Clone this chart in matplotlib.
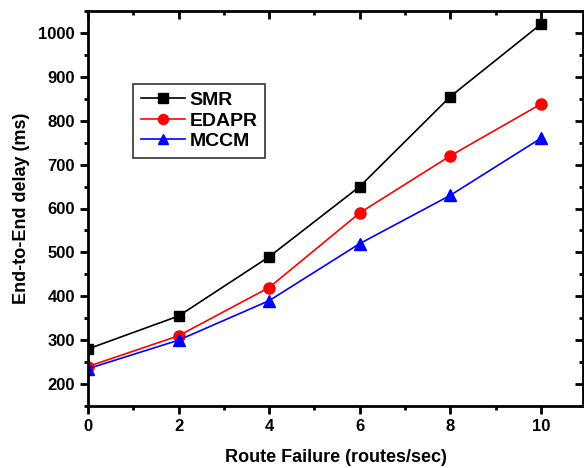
import matplotlib
matplotlib.use("Agg")
import matplotlib.pyplot as plt
from matplotlib.ticker import MultipleLocator

plt.rcParams['font.family'] = ['Liberation Sans', 'DejaVu Sans']
plt.rcParams['font.weight'] = 'bold'

route_failure = [0, 2, 4, 6, 8, 10]
smr = [280, 355, 490, 650, 855, 1020]
edapr = [240, 310, 420, 590, 720, 838]
mccm = [235, 300, 390, 520, 630, 760]

fig = plt.figure(figsize=(5.84, 4.68), dpi=100)
ax = fig.add_axes([88/584, 62/468, 495/584, 395/468])

ax.plot(route_failure, smr, color='black', marker='s', markersize=7.5, linewidth=1.2, label='SMR')
ax.plot(route_failure, edapr, color='red', marker='o', markersize=8, linewidth=1.2, label='EDAPR')
ax.plot(route_failure, mccm, color='blue', marker='^', markersize=8.5, linewidth=1.2, label='MCCM')

ax.set_xlim(0, 10.93)
ax.set_ylim(150, 1050)
ax.xaxis.set_major_locator(MultipleLocator(2))
ax.xaxis.set_minor_locator(MultipleLocator(1))
ax.yaxis.set_major_locator(MultipleLocator(100))
ax.yaxis.set_minor_locator(MultipleLocator(50))

for s in ax.spines.values():
    s.set_linewidth(2)

ax.tick_params(axis='both', which='major', length=6, width=2, labelsize=12)
ax.tick_params(axis='both', which='minor', length=3, width=2)
ax.tick_params(axis='x', which='both', direction='out', top=False)
ax.tick_params(axis='y', which='both', direction='out', right=False)

# mirrored ticks on top and right, pointing inward
top = ax.secondary_xaxis('top')
top.xaxis.set_major_locator(MultipleLocator(2))
top.xaxis.set_minor_locator(MultipleLocator(1))
top.tick_params(which='major', direction='in', length=6, width=2, labeltop=False)
top.tick_params(which='minor', direction='in', length=3, width=2)
right = ax.secondary_yaxis('right')
right.yaxis.set_major_locator(MultipleLocator(100))
right.yaxis.set_minor_locator(MultipleLocator(50))
right.tick_params(which='major', direction='in', length=6, width=2, labelright=False)
right.tick_params(which='minor', direction='in', length=3, width=2)

ax.set_xlabel('Route Failure (routes/sec)', fontsize=13, fontweight='bold', labelpad=11)
ax.set_ylabel('End-to-End delay (ms)', fontsize=13, fontweight='bold', labelpad=6)

leg = ax.legend(loc='upper left', bbox_to_anchor=(0.091, 0.816), borderaxespad=0,
                fontsize=14, frameon=True, fancybox=False, edgecolor='black',
                handlelength=2.25, borderpad=0.4, labelspacing=0.15, handletextpad=0.25,
                markerscale=0.9)
leg.get_frame().set_linewidth(1.2)

fig.savefig('out.png', dpi=100)
